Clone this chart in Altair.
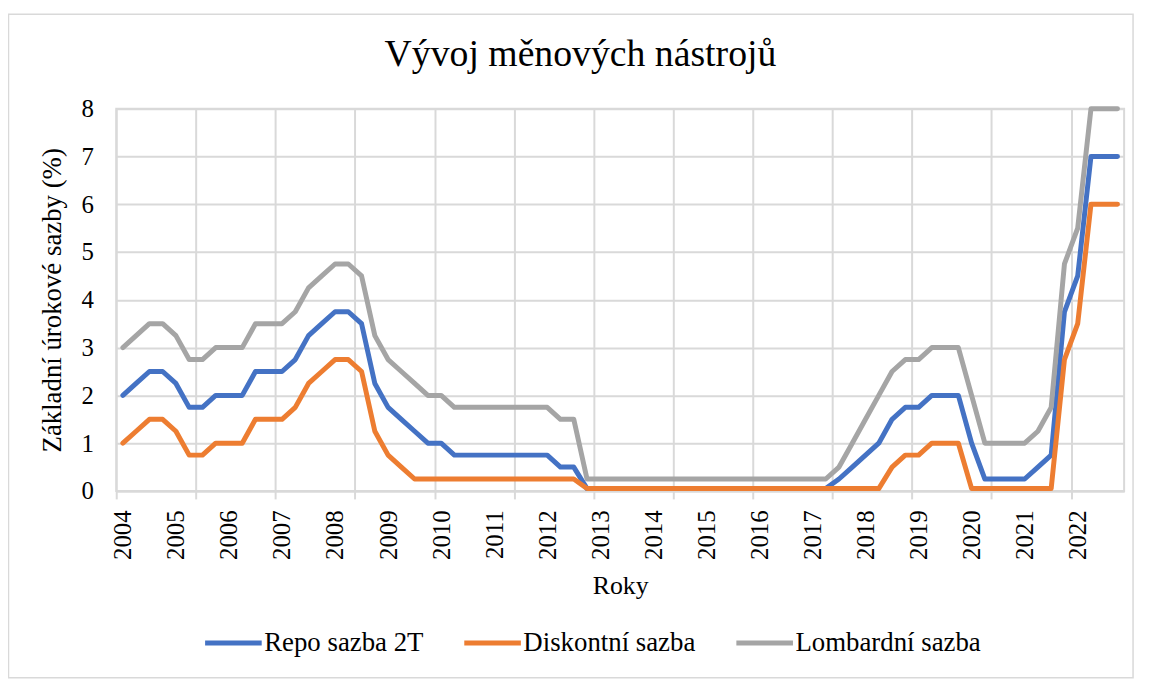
import json
import altair as alt
import pandas as pd

# ---------------- data (quarterly, 2004Q1 .. 2022Q4) ----------------
YEARS = [str(y) for y in range(2004, 2023)]
QUARTERS = [f"{y}Q{q}" for y in range(2004, 2023) for q in range(1, 5)]

REPO = [2.0, 2.25, 2.5, 2.5, 2.25, 1.75, 1.75, 2.0, 2.0, 2.0,
        2.5, 2.5, 2.5, 2.75, 3.25, 3.5, 3.75, 3.75, 3.5, 2.25,
        1.75, 1.5, 1.25, 1.0, 1.0,
        0.75, 0.75, 0.75, 0.75, 0.75, 0.75, 0.75, 0.75,
        0.5, 0.5,
        0.05, 0.05, 0.05, 0.05, 0.05, 0.05, 0.05, 0.05, 0.05, 0.05,
        0.05, 0.05, 0.05, 0.05, 0.05, 0.05, 0.05, 0.05, 0.05,
        0.25, 0.5, 0.75, 1.0, 1.5, 1.75, 1.75, 2.0, 2.0, 2.0,
        1.0, 0.25, 0.25, 0.25, 0.25, 0.5, 0.75, 3.75, 4.5, 7.0, 7.0, 7.0]

DISKONT = [1.0, 1.25, 1.5, 1.5, 1.25, 0.75, 0.75, 1.0, 1.0, 1.0,
           1.5, 1.5, 1.5, 1.75, 2.25, 2.5, 2.75, 2.75, 2.5, 1.25,
           0.75, 0.5,
           0.25, 0.25, 0.25, 0.25, 0.25, 0.25, 0.25, 0.25, 0.25, 0.25,
           0.25, 0.25, 0.25,
           0.05, 0.05, 0.05, 0.05, 0.05, 0.05, 0.05, 0.05, 0.05, 0.05,
           0.05, 0.05, 0.05, 0.05, 0.05, 0.05, 0.05, 0.05, 0.05, 0.05,
           0.05, 0.05, 0.05,
           0.5, 0.75, 0.75, 1.0, 1.0, 1.0,
           0.05, 0.05, 0.05, 0.05, 0.05, 0.05, 0.05,
           2.75, 3.5, 6.0, 6.0, 6.0]

LOMBARD = [3.0, 3.25, 3.5, 3.5, 3.25, 2.75, 2.75, 3.0, 3.0, 3.0,
           3.5, 3.5, 3.5, 3.75, 4.25, 4.5, 4.75, 4.75, 4.5, 3.25,
           2.75, 2.5, 2.25, 2.0, 2.0,
           1.75, 1.75, 1.75, 1.75, 1.75, 1.75, 1.75, 1.75,
           1.5, 1.5,
           0.25, 0.25, 0.25, 0.25, 0.25, 0.25, 0.25, 0.25, 0.25, 0.25,
           0.25, 0.25, 0.25, 0.25, 0.25, 0.25, 0.25, 0.25, 0.25,
           0.5, 1.0, 1.5, 2.0, 2.5, 2.75, 2.75, 3.0, 3.0, 3.0,
           2.0, 1.0, 1.0, 1.0, 1.0, 1.25, 1.75, 4.75, 5.5, 8.0, 8.0, 8.0]

SERIES = ["Repo sazba 2T", "Diskontní sazba", "Lombardní sazba"]
COLORS = ["#4472C4", "#ED7D31", "#A5A5A5"]

rows = []
for name, vals in zip(SERIES, [REPO, DISKONT, LOMBARD]):
    for i, (q, v) in enumerate(zip(QUARTERS, vals)):
        rows.append({"idx": i, "ctvrtleti": q, "serie": name, "sazba": v})
df = pd.DataFrame(rows)

n = len(QUARTERS)
label_vals = [4 * k for k in range(len(YEARS))]           # one label per year
grid_vals = [6 * k - 0.5 for k in range((n + 5) // 6)]    # gridline every 6 categories
x_vals = sorted(label_vals + grid_vals)

FONT = "Liberation Serif"
GRID = "#d9d9d9"

label_expr = ("datum.value % 4 === 0 ? " + json.dumps(YEARS) +
              "[datum.value / 4] : ''")
is_grid = "datum.value % 1 !== 0"

x_axis = alt.Axis(
    values=x_vals,
    labelExpr=label_expr,
    labelAngle=270,
    labelFont=FONT, labelFontSize=25, labelColor="#000000",
    labelPadding=11, labelOverlap=False, labelFlush=False,
    grid=True, gridColor=GRID, gridWidth=2,
    gridOpacity={"condition": {"test": is_grid, "value": 1}, "value": 0},
    ticks=True, tickSize=8, tickColor=GRID, tickWidth=2,
    tickOpacity={"condition": {"test": is_grid, "value": 1}, "value": 0},
    domain=True, domainColor=GRID, domainWidth=2,
    title="Roky", titleFont=FONT, titleFontSize=26, titleFontWeight="normal",
    titleColor="#000000", titlePadding=13,
)

y_axis = alt.Axis(
    values=list(range(0, 9)),
    labelFont=FONT, labelFontSize=25, labelColor="#000000", labelPadding=23,
    grid=True, gridColor=GRID, gridWidth=2,
    ticks=False, domain=False,
    title="Základní úrokové sazby (%)", titleFont=FONT, titleFontSize=27,
    titleFontWeight="normal", titleColor="#000000", titlePadding=15,
)

lines = alt.Chart(df).mark_line(
    strokeWidth=5, strokeJoin="round", strokeCap="round"
).encode(
    x=alt.X("idx:Q", scale=alt.Scale(domain=[-0.5, n - 0.5], nice=False, zero=False),
            axis=x_axis),
    y=alt.Y("sazba:Q", scale=alt.Scale(domain=[0, 8], nice=False), axis=y_axis),
    color=alt.Color(
        "serie:N",
        sort=SERIES,
        scale=alt.Scale(domain=SERIES, range=COLORS),
        legend=alt.Legend(
            title=None, orient="none", direction="horizontal",
            legendX=87, legendY=507,
            symbolType="stroke", symbolSize=3249, symbolStrokeWidth=5,
            labelFont=FONT, labelFontSize=27, labelColor="#000000",
            labelLimit=0, labelOffset=0, columnPadding=30, padding=0,
        ),
    ),
    order=alt.Order("idx:Q"),
)

border = alt.Chart(pd.DataFrame({"b": [0]})).mark_rect(
    fillOpacity=0, stroke=GRID, strokeWidth=1.5
).encode(
    x=alt.value(-108.5), x2=alt.value(1024),
    y=alt.value(-95), y2=alt.value(573),
)

chart = alt.layer(border, lines).properties(
    width=1015, height=385,
    autosize=alt.AutoSizeParams(type="none"),
    padding={"left": 109, "top": 99, "right": 17, "bottom": 190},
    title=alt.Title(
        "Vývoj měnových nástrojů", font=FONT, fontSize=38, fontWeight="normal",
        color="#000000", anchor="middle", frame="group", dx=-40, offset=-61,
    ),
).configure(font=FONT, background="white").configure_view(stroke=GRID, strokeWidth=2)

chart.save("out.html", embed_options={"renderer": "svg", "actions": False})
